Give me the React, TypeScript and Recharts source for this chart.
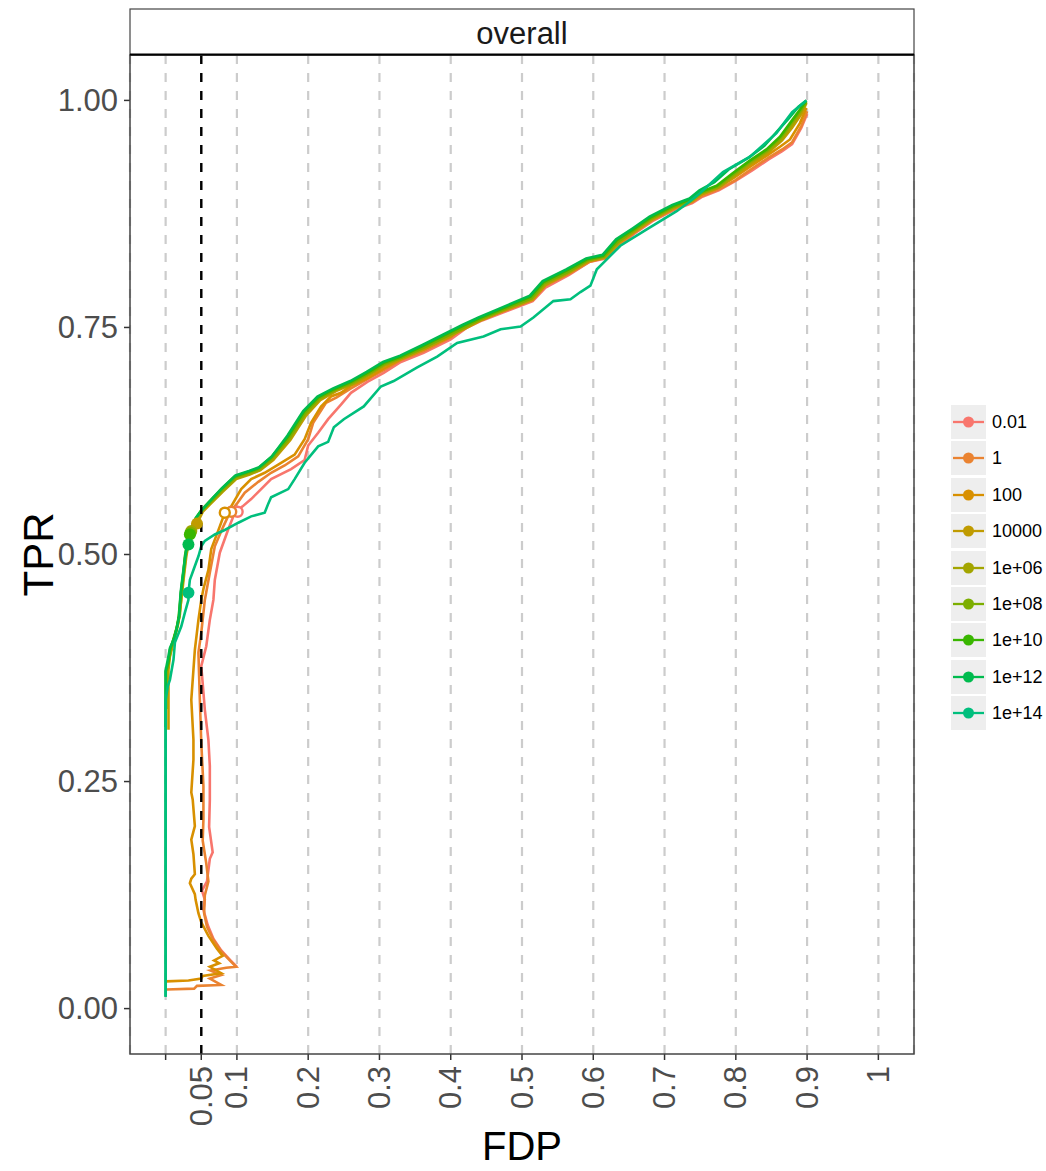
import React from 'react';
import { ComposedChart, Line, XAxis, YAxis, CartesianGrid, ReferenceLine, ReferenceDot } from 'recharts';

const SERIES_NAMES = ['0.01', '1', '100', '10000', '1e+06', '1e+08', '1e+10', '1e+12', '1e+14'];
const SERIES_COLORS = ['#F8766D', '#EA8331', '#D89000', '#C09B00', '#A3A500', '#7CAE00', '#39B600', '#00BB4E', '#00BF7D'];

const X_TICKS = [0, 0.05, 0.1, 0.2, 0.3, 0.4, 0.5, 0.6, 0.7, 0.8, 0.9, 1];
const X_TICK_LABELS = ['', '0.05', '0.1', '0.2', '0.3', '0.4', '0.5', '0.6', '0.7', '0.8', '0.9', '1'];
const Y_TICKS = [0, 0.25, 0.5, 0.75, 1];
const Y_TICK_LABELS = ['0.00', '0.25', '0.50', '0.75', '1.00'];
const FDP_THRESHOLD = 0.05;
const FACET_LABEL = 'overall';
const X_TITLE = 'FDP';
const Y_TITLE = 'TPR';

type P = [number, number];

const curve_0_01: P[] = [[0.100,0.046],[0.090,0.054],[0.078,0.064],[0.067,0.077],[0.059,0.092],[0.053,0.109],[0.055,0.120],[0.051,0.130],[0.058,0.140],[0.062,0.165],[0.066,0.172],[0.061,0.200],[0.062,0.230],[0.062,0.267],[0.060,0.296],[0.055,0.329],[0.050,0.377],[0.057,0.399],[0.062,0.428],[0.067,0.450],[0.069,0.472],[0.076,0.502],[0.088,0.528],[0.097,0.546],[0.108,0.553],[0.120,0.561],[0.148,0.583],[0.176,0.594],[0.195,0.604],[0.200,0.620],[0.214,0.634],[0.228,0.649],[0.246,0.665],[0.260,0.678],[0.283,0.690],[0.306,0.700],[0.330,0.712],[0.362,0.722],[0.400,0.737],[0.423,0.750],[0.445,0.758],[0.475,0.767],[0.515,0.779],[0.533,0.794],[0.566,0.808],[0.594,0.822],[0.617,0.826],[0.636,0.840],[0.659,0.854],[0.683,0.867],[0.715,0.880],[0.739,0.887],[0.753,0.894],[0.776,0.901],[0.799,0.911],[0.823,0.923],[0.846,0.935],[0.865,0.944],[0.879,0.952],[0.892,0.970],[0.900,0.985]];

const curve_1: P[] = [[0.001,0.021],[0.040,0.022],[0.044,0.025],[0.078,0.026],[0.062,0.033],[0.078,0.037],[0.063,0.042],[0.085,0.045],[0.099,0.046],[0.090,0.053],[0.078,0.063],[0.066,0.077],[0.058,0.090],[0.054,0.105],[0.055,0.125],[0.060,0.140],[0.057,0.160],[0.052,0.185],[0.053,0.208],[0.053,0.245],[0.050,0.293],[0.048,0.340],[0.046,0.392],[0.050,0.414],[0.055,0.450],[0.062,0.480],[0.069,0.509],[0.081,0.531],[0.090,0.546],[0.100,0.556],[0.111,0.568],[0.130,0.580],[0.148,0.590],[0.167,0.598],[0.186,0.608],[0.200,0.627],[0.207,0.645],[0.225,0.667],[0.240,0.673],[0.260,0.683],[0.283,0.693],[0.306,0.703],[0.330,0.714],[0.362,0.724],[0.400,0.739],[0.423,0.754],[0.445,0.760],[0.475,0.768],[0.515,0.780],[0.533,0.796],[0.566,0.809],[0.594,0.822],[0.617,0.827],[0.636,0.841],[0.659,0.855],[0.683,0.868],[0.715,0.881],[0.739,0.888],[0.753,0.895],[0.776,0.902],[0.799,0.912],[0.823,0.925],[0.846,0.937],[0.865,0.946],[0.879,0.954],[0.892,0.972],[0.900,0.988]];

const curve_100: P[] = [[0.001,0.030],[0.032,0.031],[0.050,0.033],[0.052,0.036],[0.078,0.039],[0.062,0.046],[0.075,0.050],[0.068,0.053],[0.080,0.058],[0.072,0.066],[0.060,0.080],[0.050,0.095],[0.046,0.105],[0.042,0.120],[0.041,0.126],[0.034,0.138],[0.036,0.143],[0.041,0.148],[0.039,0.170],[0.036,0.186],[0.041,0.201],[0.038,0.230],[0.036,0.238],[0.039,0.274],[0.039,0.296],[0.036,0.340],[0.039,0.373],[0.041,0.395],[0.046,0.428],[0.050,0.450],[0.053,0.462],[0.060,0.483],[0.064,0.506],[0.076,0.531],[0.083,0.546],[0.092,0.553],[0.106,0.572],[0.120,0.583],[0.139,0.590],[0.158,0.599],[0.181,0.610],[0.195,0.627],[0.204,0.645],[0.218,0.663],[0.232,0.674],[0.246,0.678],[0.260,0.686],[0.283,0.694],[0.306,0.705],[0.330,0.715],[0.362,0.726],[0.400,0.740],[0.423,0.754],[0.440,0.759],[0.470,0.768],[0.512,0.781],[0.530,0.796],[0.563,0.810],[0.591,0.823],[0.614,0.828],[0.633,0.842],[0.656,0.856],[0.680,0.869],[0.712,0.882],[0.736,0.889],[0.750,0.896],[0.773,0.903],[0.796,0.914],[0.820,0.927],[0.843,0.939],[0.862,0.949],[0.876,0.957],[0.890,0.975],[0.899,0.992]];

const curve_10000: P[] = [[0.004,0.307],[0.004,0.373],[0.006,0.388],[0.010,0.400],[0.014,0.412],[0.018,0.425],[0.022,0.450],[0.026,0.478],[0.029,0.498],[0.033,0.515],[0.038,0.526],[0.044,0.534],[0.052,0.547],[0.062,0.555],[0.080,0.569],[0.099,0.583],[0.118,0.588],[0.133,0.593],[0.151,0.604],[0.175,0.626],[0.197,0.653],[0.217,0.670],[0.239,0.680],[0.263,0.688],[0.286,0.698],[0.309,0.709],[0.333,0.716],[0.365,0.727],[0.393,0.738],[0.421,0.749],[0.443,0.758],[0.473,0.768],[0.515,0.781],[0.533,0.797],[0.566,0.810],[0.594,0.823],[0.617,0.827],[0.636,0.843],[0.659,0.856],[0.683,0.869],[0.715,0.882],[0.739,0.889],[0.753,0.897],[0.776,0.904],[0.799,0.917],[0.823,0.931],[0.846,0.943],[0.865,0.956],[0.879,0.970],[0.892,0.985],[0.899,0.997]];

const curve_1e06: P[] = [[0.002,0.350],[0.002,0.372],[0.005,0.384],[0.008,0.397],[0.012,0.408],[0.016,0.420],[0.020,0.434],[0.023,0.463],[0.026,0.483],[0.029,0.502],[0.032,0.515],[0.036,0.526],[0.041,0.537],[0.046,0.543],[0.052,0.549],[0.062,0.556],[0.080,0.570],[0.099,0.584],[0.118,0.589],[0.132,0.593],[0.150,0.605],[0.174,0.627],[0.196,0.654],[0.216,0.671],[0.238,0.681],[0.262,0.688],[0.285,0.698],[0.308,0.709],[0.332,0.717],[0.364,0.728],[0.392,0.739],[0.420,0.750],[0.442,0.759],[0.472,0.769],[0.514,0.782],[0.532,0.798],[0.565,0.811],[0.593,0.824],[0.616,0.828],[0.635,0.844],[0.658,0.857],[0.682,0.870],[0.714,0.883],[0.738,0.890],[0.752,0.898],[0.775,0.904],[0.798,0.918],[0.822,0.932],[0.845,0.944],[0.864,0.957],[0.878,0.972],[0.891,0.987],[0.899,0.998]];

const curve_1e08: P[] = [[0.001,0.330],[0.001,0.370],[0.004,0.382],[0.007,0.396],[0.011,0.407],[0.015,0.418],[0.019,0.431],[0.022,0.462],[0.025,0.481],[0.028,0.500],[0.031,0.513],[0.035,0.524],[0.040,0.536],[0.045,0.542],[0.051,0.549],[0.061,0.556],[0.079,0.571],[0.098,0.585],[0.117,0.590],[0.131,0.594],[0.149,0.606],[0.173,0.628],[0.195,0.655],[0.215,0.672],[0.237,0.681],[0.261,0.689],[0.284,0.699],[0.307,0.710],[0.331,0.717],[0.363,0.728],[0.391,0.739],[0.419,0.750],[0.441,0.759],[0.471,0.769],[0.513,0.782],[0.531,0.799],[0.564,0.811],[0.592,0.824],[0.615,0.828],[0.634,0.844],[0.657,0.857],[0.681,0.870],[0.713,0.883],[0.737,0.890],[0.751,0.898],[0.774,0.905],[0.797,0.919],[0.821,0.933],[0.844,0.945],[0.863,0.959],[0.877,0.974],[0.891,0.989],[0.899,0.998]];

const curve_1e10: P[] = [[0.000,0.310],[0.000,0.371],[0.004,0.381],[0.006,0.395],[0.011,0.406],[0.015,0.417],[0.018,0.430],[0.022,0.461],[0.025,0.480],[0.027,0.498],[0.030,0.512],[0.034,0.522],[0.039,0.535],[0.044,0.542],[0.050,0.549],[0.060,0.557],[0.078,0.572],[0.097,0.586],[0.116,0.591],[0.130,0.595],[0.148,0.607],[0.172,0.630],[0.194,0.657],[0.214,0.673],[0.236,0.682],[0.260,0.690],[0.283,0.700],[0.306,0.711],[0.330,0.718],[0.362,0.730],[0.390,0.741],[0.418,0.752],[0.440,0.760],[0.470,0.770],[0.512,0.784],[0.530,0.800],[0.563,0.813],[0.591,0.825],[0.614,0.829],[0.633,0.846],[0.656,0.858],[0.680,0.871],[0.712,0.884],[0.736,0.891],[0.750,0.899],[0.773,0.906],[0.796,0.920],[0.820,0.934],[0.843,0.946],[0.862,0.960],[0.876,0.975],[0.890,0.990],[0.899,1.000]];

const curve_1e12: P[] = [[0.000,0.013],[0.000,0.372],[0.003,0.384],[0.006,0.397],[0.012,0.408],[0.016,0.420],[0.019,0.433],[0.021,0.458],[0.024,0.477],[0.027,0.495],[0.029,0.505],[0.032,0.511],[0.036,0.528],[0.042,0.540],[0.050,0.548],[0.061,0.558],[0.079,0.573],[0.098,0.587],[0.117,0.592],[0.131,0.596],[0.149,0.608],[0.171,0.631],[0.193,0.658],[0.213,0.674],[0.235,0.683],[0.259,0.691],[0.282,0.701],[0.305,0.712],[0.329,0.719],[0.361,0.731],[0.389,0.742],[0.417,0.753],[0.439,0.761],[0.469,0.771],[0.511,0.785],[0.529,0.801],[0.562,0.814],[0.590,0.826],[0.613,0.830],[0.632,0.847],[0.655,0.859],[0.679,0.872],[0.711,0.885],[0.735,0.892],[0.749,0.901],[0.770,0.910],[0.790,0.924],[0.818,0.937],[0.840,0.950],[0.858,0.966],[0.874,0.980],[0.888,0.993],[0.899,1.000]];

const curve_1e14: P[] = [[0.000,0.013],[0.000,0.340],[0.003,0.355],[0.006,0.362],[0.011,0.384],[0.013,0.403],[0.022,0.421],[0.027,0.436],[0.032,0.450],[0.032,0.458],[0.034,0.472],[0.039,0.483],[0.046,0.498],[0.050,0.509],[0.055,0.515],[0.069,0.522],[0.083,0.527],[0.102,0.535],[0.120,0.542],[0.139,0.546],[0.144,0.556],[0.148,0.563],[0.172,0.572],[0.181,0.583],[0.195,0.601],[0.214,0.619],[0.228,0.624],[0.236,0.640],[0.250,0.649],[0.278,0.663],[0.302,0.685],[0.320,0.691],[0.353,0.706],[0.381,0.718],[0.409,0.733],[0.446,0.740],[0.470,0.748],[0.498,0.751],[0.516,0.761],[0.544,0.779],[0.568,0.781],[0.582,0.789],[0.596,0.796],[0.605,0.814],[0.619,0.825],[0.638,0.840],[0.675,0.858],[0.717,0.878],[0.736,0.889],[0.750,0.898],[0.782,0.921],[0.820,0.938],[0.857,0.964],[0.879,0.987],[0.899,1.000]];

const CURVES: P[][] = [curve_0_01, curve_1, curve_100, curve_10000, curve_1e06, curve_1e08, curve_1e10, curve_1e12, curve_1e14];

// operating points at the nominal FDP threshold (filled = FDP controlled)
const POINT_FDP = [0.101, 0.092, 0.083, 0.044, 0.036, 0.035, 0.034, 0.032, 0.032];
const POINT_TPR = [0.547, 0.547, 0.546, 0.534, 0.526, 0.524, 0.522, 0.511, 0.458];
const POINT_FILLED = [false, false, false, true, true, true, true, true, true];

const FONT = '"Liberation Sans", Arial, Helvetica, sans-serif';
const W = 1046;
const H = 1171;
const PANEL = { left: 130, top: 55, right: 914, bottom: 1054 };

const XTick = (props: any) => {
  const { x, y, payload } = props;
  const idx = X_TICKS.indexOf(payload.value);
  const label = idx >= 0 ? X_TICK_LABELS[idx] : String(payload.value);
  return (
    <text
      x={x}
      y={y}
      transform={`rotate(-90, ${x}, ${y})`}
      textAnchor="end"
      dominantBaseline="central"
      fontSize={31}
      fontFamily={FONT}
      fill="#4D4D4D"
    >
      {label}
    </text>
  );
};

const YTick = (props: any) => {
  const { x, y, payload } = props;
  const idx = Y_TICKS.indexOf(payload.value);
  const label = idx >= 0 ? Y_TICK_LABELS[idx] : String(payload.value);
  return (
    <text x={x} y={y} textAnchor="end" dominantBaseline="central" fontSize={31} fontFamily={FONT} fill="#4D4D4D">
      {label}
    </text>
  );
};

export default function App() {
  const seriesData = CURVES.map((c) => c.map(([fdp, tpr]) => ({ fdp, tpr })));
  const yAxisWidth = 60;
  const xAxisHeight = 60;
  return (
    <div style={{ position: 'absolute', left: 0, top: 0, width: W, height: H, background: '#fff', fontFamily: FONT }}>
      <ComposedChart
        width={W}
        height={H}
        margin={{ top: PANEL.top, right: W - PANEL.right, bottom: H - PANEL.bottom - xAxisHeight, left: PANEL.left - yAxisWidth }}
      >
        <CartesianGrid vertical horizontal={false} stroke="#CCCCCC" strokeWidth={2.2} strokeDasharray="9 9" />
        <XAxis
          type="number"
          dataKey="fdp"
          domain={[-0.05, 1.05]}
          ticks={X_TICKS}
          interval={0}
          allowDataOverflow
          height={xAxisHeight}
          tickSize={6}
          tickMargin={6}
          tick={<XTick />}
          axisLine={false}
          tickLine={{ stroke: '#333333', strokeWidth: 1.5 }}
        />
        <YAxis
          type="number"
          dataKey="tpr"
          domain={[-0.05, 1.05]}
          ticks={Y_TICKS}
          interval={0}
          allowDataOverflow
          width={yAxisWidth}
          tickSize={6}
          tickMargin={6}
          tick={<YTick />}
          axisLine={false}
          tickLine={{ stroke: '#333333', strokeWidth: 1.5 }}
        />
        {seriesData.map((d, i) => (
          <Line
            key={SERIES_NAMES[i]}
            data={d}
            dataKey="tpr"
            name={SERIES_NAMES[i]}
            type="linear"
            stroke={SERIES_COLORS[i]}
            strokeWidth={2.6}
            dot={false}
            activeDot={false}
            isAnimationActive={false}
          />
        ))}
        <ReferenceLine x={FDP_THRESHOLD} stroke="#000000" strokeWidth={2.4} strokeDasharray="9 9" />
        {SERIES_NAMES.map((n, i) => (
          <ReferenceDot
            key={'pt' + n}
            x={POINT_FDP[i]}
            y={POINT_TPR[i]}
            r={POINT_FILLED[i] ? 6 : 5}
            fill={POINT_FILLED[i] ? SERIES_COLORS[i] : '#FFFFFF'}
            stroke={SERIES_COLORS[i]}
            strokeWidth={POINT_FILLED[i] ? 0 : 2.4}
          />
        ))}
      </ComposedChart>

      <svg width={W} height={H} style={{ position: 'absolute', left: 0, top: 0, pointerEvents: 'none' }}>
        <rect
          x={PANEL.left}
          y={PANEL.top}
          width={PANEL.right - PANEL.left}
          height={PANEL.bottom - PANEL.top}
          fill="none"
          stroke="#444444"
          strokeWidth={1.5}
        />
        <rect x={PANEL.left} y={9} width={PANEL.right - PANEL.left} height={PANEL.top - 9} fill="#FFFFFF" stroke="#444444" strokeWidth={1.2} />
        <line x1={PANEL.left} x2={PANEL.right} y1={PANEL.top - 0.5} y2={PANEL.top - 0.5} stroke="#000000" strokeWidth={2} />
        <text x={(PANEL.left + PANEL.right) / 2} y={33} textAnchor="middle" dominantBaseline="central" fontSize={31} fontFamily={FONT} fill="#1A1A1A">
          {FACET_LABEL}
        </text>
        <text x={(PANEL.left + PANEL.right) / 2} y={1146} textAnchor="middle" dominantBaseline="central" fontSize={40} fontFamily={FONT} fill="#000000">
          {X_TITLE}
        </text>
        <text
          x={38}
          y={(PANEL.top + PANEL.bottom) / 2}
          transform={`rotate(-90, 38, ${(PANEL.top + PANEL.bottom) / 2})`}
          textAnchor="middle"
          dominantBaseline="central"
          fontSize={42}
          fontFamily={FONT}
          fill="#000000"
        >
          {Y_TITLE}
        </text>
      </svg>

      <div style={{ position: 'absolute', left: 951, top: 405 }}>
        {SERIES_NAMES.map((n, i) => (
          <div key={n} style={{ display: 'flex', alignItems: 'center', height: 36.4 }}>
            <svg width={35} height={34} style={{ display: 'block', alignSelf: 'flex-start' }}>
              <rect x={0} y={0} width={35} height={34} fill="#EEEEEE" />
              <line x1={2} x2={33} y1={17} y2={17} stroke={SERIES_COLORS[i]} strokeWidth={2.3} />
              <circle cx={17.5} cy={17} r={5.5} fill={SERIES_COLORS[i]} />
            </svg>
            <span style={{ marginLeft: 6, fontSize: 18, fontFamily: FONT, color: '#000', lineHeight: '34px', alignSelf: 'flex-start' }}>{n}</span>
          </div>
        ))}
      </div>
    </div>
  );
}
